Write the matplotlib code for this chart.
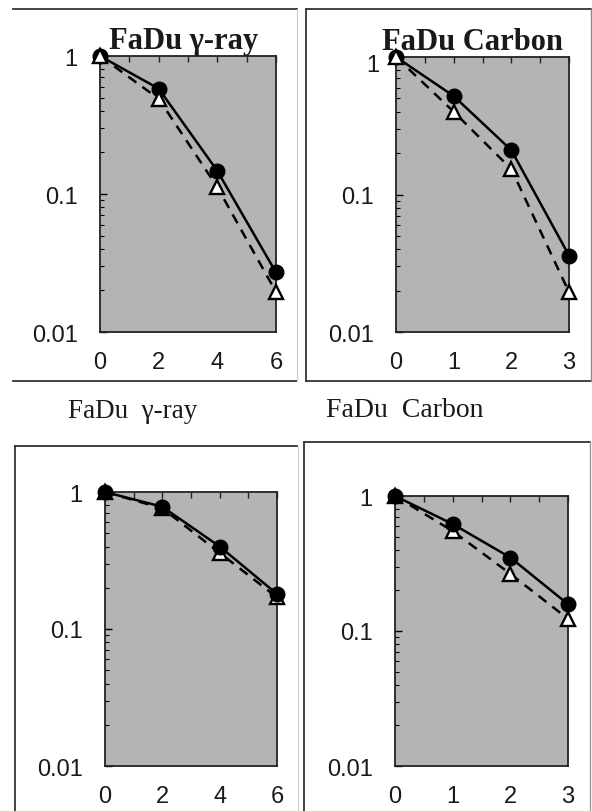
import matplotlib
matplotlib.use("Agg")
import matplotlib.pyplot as plt
from matplotlib.lines import Line2D
from matplotlib.ticker import LogLocator, NullFormatter, FixedLocator
from matplotlib.transforms import ScaledTranslation

W, H = 592, 812

# ---- data ----
gamma_dose = [0, 2, 4, 6]
carbon_dose = [0, 1, 2, 3]

top_gamma_circle = [1.0, 0.58, 0.147, 0.027]
top_gamma_triangle = [1.0, 0.49, 0.112, 0.0195]
top_carbon_circle = [1.0, 0.52, 0.21, 0.036]
top_carbon_triangle = [1.0, 0.40, 0.153, 0.0195]

bot_gamma_circle = [1.0, 0.78, 0.40, 0.18]
bot_gamma_triangle = [1.0, 0.76, 0.36, 0.17]
bot_carbon_circle = [1.0, 0.62, 0.35, 0.158]
bot_carbon_triangle = [1.0, 0.55, 0.265, 0.123]

ytick_vals = [0.01, 0.1, 1]
ytick_labels = ["0.01", "0.1", "1"]

title_tl = "FaDu γ-ray"
title_tr = "FaDu Carbon"
caption_bl = "FaDu  γ-ray"
caption_br = "FaDu  Carbon"

fig = plt.figure(figsize=(W / 100, H / 100), dpi=100)
fig.patch.set_facecolor("white")


def px_axes(l, r, t, b):
    return [l / W, 1 - b / H, (r - l) / W, (b - t) / H]


def fx(x):
    return x / W


def fy(y):
    return 1 - y / H


def hline(x0, x1, y, color="#333333", lw=1.3):
    fig.add_artist(Line2D([fx(x0), fx(x1)], [fy(y), fy(y)], color=color, lw=lw,
                          transform=fig.transFigure))


def vline(x, y0, y1, color="#333333", lw=1.3):
    fig.add_artist(Line2D([fx(x), fx(x)], [fy(y0), fy(y1)], color=color, lw=lw,
                          transform=fig.transFigure))


GRAY = "#b4b4b4"
TXT = "#1a1a1a"
SANS = ["Liberation Sans", "DejaVu Sans"]
SERIF = ["Liberation Serif", "DejaVu Serif"]


def make_panel(rect, x, circ, tri, xmajor, xminor, tri_on_top):
    ax = fig.add_axes(rect)
    ax.set_facecolor(GRAY)
    ax.set_yscale("log")
    ax.set_ylim(0.01, 1)
    ax.set_xlim(x[0], x[-1])
    for s in ax.spines.values():
        s.set_linewidth(1.3)
        s.set_color("#222222")
    ax.xaxis.set_major_locator(FixedLocator(xmajor))
    ax.xaxis.set_minor_locator(FixedLocator(xminor))
    ax.set_xticklabels([str(v) for v in xmajor])
    ax.yaxis.set_major_locator(FixedLocator(ytick_vals))
    ax.set_yticklabels(ytick_labels)
    ax.yaxis.set_minor_locator(LogLocator(base=10, subs=range(2, 10)))
    ax.yaxis.set_minor_formatter(NullFormatter())
    ax.tick_params(axis="x", which="both", direction="in", top=True, bottom=False,
                   labelbottom=True, length=4, width=1, pad=14, colors="#222222",
                   labelsize=17, labelcolor=TXT)
    ax.tick_params(axis="y", which="major", direction="in", left=True, right=False,
                   length=5, width=1, pad=16, labelsize=17, labelcolor=TXT)
    ax.tick_params(axis="y", which="minor", direction="in", left=True, right=False,
                   length=3, width=0.8)
    for lab in ax.get_xticklabels() + ax.get_yticklabels():
        lab.set_fontfamily(SANS)
    zc, zt = (4, 5) if tri_on_top else (5, 4)
    ax.plot(x, tri, linestyle=(0, (4, 3)), color="black", lw=1.8, marker="^",
            markersize=10, markerfacecolor="white", markeredgecolor="black",
            markeredgewidth=1.7, clip_on=False, zorder=zt)
    ax.plot(x, circ, linestyle="-", color="black", lw=1.8, marker="o",
            markersize=10.5, markerfacecolor="black", markeredgecolor="black",
            clip_on=False, zorder=zc)
    return ax


make_panel(px_axes(100, 276, 57, 333), gamma_dose, top_gamma_circle,
           top_gamma_triangle, [0, 2, 4, 6], [1, 3, 5], True)
ax_tr = make_panel(px_axes(396, 569, 58, 333), carbon_dose, top_carbon_circle,
                   top_carbon_triangle, [0, 1, 2, 3], [0.5, 1.5, 2.5], True)
# in the reference the "1" label of this panel sits a little closer to the axis
lab_one = ax_tr.get_yticklabels()[-1]
lab_one.set_transform(lab_one.get_transform() +
                      ScaledTranslation(6 / 100, -5 / 100, fig.dpi_scale_trans))
make_panel(px_axes(105, 277, 493, 767), gamma_dose, bot_gamma_circle,
           bot_gamma_triangle, [0, 2, 4, 6], [1, 3, 5], False)
make_panel(px_axes(395, 568, 497, 767), carbon_dose, bot_carbon_circle,
           bot_carbon_triangle, [0, 1, 2, 3], [0.5, 1.5, 2.5], False)

# titles
fig.text(fx(184), fy(41), title_tl, ha="center", va="center", fontsize=22,
         fontweight="bold", family=SERIF, color=TXT)
fig.text(fx(472), fy(42), title_tr, ha="center", va="center", fontsize=22,
         fontweight="bold", family=SERIF, color=TXT)
fig.text(fx(68), fy(412), caption_bl, ha="left", va="center", fontsize=19.5,
         family=SERIF, color=TXT)
fig.text(fx(326), fy(411), caption_br, ha="left", va="center", fontsize=20,
         family=SERIF, color=TXT)

# frames
hline(13, 297, 10)
hline(13, 297, 382)
vline(297, 10, 382, color="#cccccc", lw=0.8)
hline(306, 591, 10)
hline(306, 591, 382)
vline(306, 10, 382)
vline(591, 10, 382, color="#888888", lw=1.0)
hline(15, 297, 447)
vline(15, 447, 812)
vline(298, 447, 812, color="#cccccc", lw=0.8)
hline(304, 590, 443)
vline(304, 443, 812)
vline(590, 443, 812, color="#999999", lw=1.0)

fig.savefig("out.png", dpi=100)
